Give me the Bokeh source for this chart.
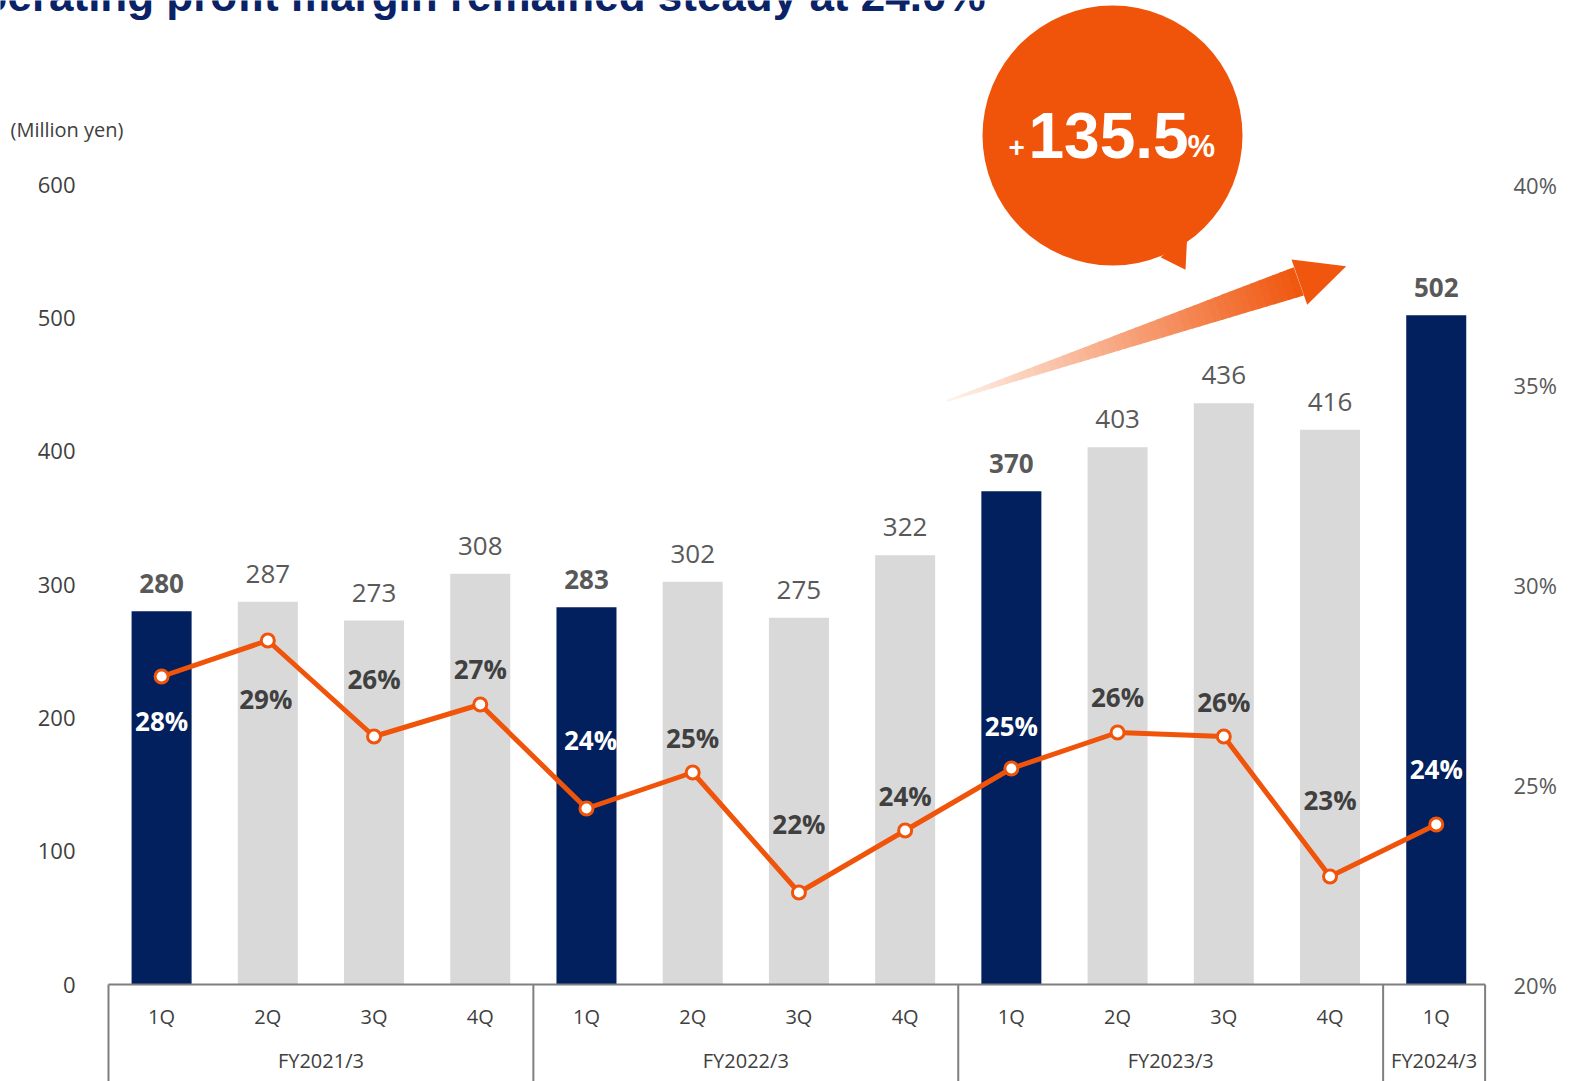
import numpy as np
from bokeh.plotting import figure
from bokeh.models import Range1d, LinearAxis, FixedTicker, ColumnDataSource
from bokeh.core.properties import value
from bokeh.embed import file_html
from bokeh.resources import INLINE

# ---------------- data ----------------
quarters = ["1Q", "2Q", "3Q", "4Q", "1Q", "2Q", "3Q", "4Q", "1Q", "2Q", "3Q", "4Q", "1Q"]
fiscal_years = ["FY2021/3", "FY2022/3", "FY2023/3", "FY2024/3"]
fy_quarter_counts = [4, 4, 4, 1]
operating_profit = [280, 287, 273, 308, 283, 302, 275, 322, 370, 403, 436, 416, 502]   # million yen
margin_pct = [27.7, 28.6, 26.2, 27.0, 24.4, 25.3, 22.3, 23.85, 25.4, 26.3, 26.2, 22.7, 24.0]
left_ticks = [0, 100, 200, 300, 400, 500, 600]
right_ticks = [20, 25, 30, 35, 40]
right_tick_labels = ["20%", "25%", "30%", "35%", "40%"]
growth_value = "135.5"
title_text = "Operating profit margin remained steady at 24.0%"
unit_text = "(Million yen)"

# ---------------- styles ----------------
NAVY = "#021f5e"
GRAY_BAR = "#d9d9d9"
ORANGE = "#f0540a"
DARK = "#404040"
MID = "#595959"
FONT = "Open Sans"
BOLDFONT = "Liberation Sans"
# pixel offsets of margin labels relative to their points (+ = down)
pct_label_dy = [44, 58, -58, -36, -69, -35, -69, -35, -43, -36, -35, -77, -56]
pct_label_dx = [0, -2, 0, 0, 4, 0, 0, 0, 0, 0, 0, 0, 0]

W, H = 1572, 1081
MR = 83
SX = 106.22                 # px per category
IDX0_PX = 161.1             # pixel x of first category
X0 = -IDX0_PX / SX
X1 = X0 + (W - MR) / SX
SY = 4.0 / 3.0              # px per million yen
Y_TOP = 984 / SY
Y_BOT = Y_TOP - H / SY
P_BOT, P_TOP = 20 + Y_BOT / 30.0, 20 + Y_TOP / 30.0   # 20%..40% <-> 0..600
ARIAL_MID = 0.3465          # em-box middle above baseline (Arial metrics)


def px2x(px):   # pixel -> data x
    return X0 + px / SX


def py2y(py):   # pixel -> data y (left axis units)
    return Y_TOP - py / SY


idx = list(range(len(quarters)))
highlight = [q == "1Q" for q in quarters]

p = figure(width=W, height=H, output_backend="svg", toolbar_location=None,
           x_range=Range1d(X0, X1), y_range=Range1d(Y_BOT, Y_TOP),
           x_axis_type=None, y_axis_type=None,
           min_border_left=0, min_border_right=MR, min_border_top=0, min_border_bottom=0)
p.outline_line_color = None
p.background_fill_color = "white"
p.extra_y_ranges = {"pct": Range1d(P_BOT, P_TOP)}

# right axis (margin %)
ra = LinearAxis(y_range_name="pct", ticker=FixedTicker(ticks=right_ticks), axis_line_color=None,
                major_tick_line_color=None, minor_tick_line_color=None,
                major_tick_out=0, major_tick_in=0, major_label_standoff=24,
                major_label_text_font=FONT, major_label_text_font_size="22px",
                major_label_text_color=MID,
                major_label_overrides={t: l for t, l in zip(right_ticks, right_tick_labels)})
p.add_layout(ra, "right")

# left value scale labels
p.text(x=[px2x(75)] * len(left_ticks), y=left_ticks, text=[str(t) for t in left_ticks],
       text_align="right", text_baseline="middle", text_font=value(FONT),
       text_font_size="22px", text_color=DARK)
p.text(x=[px2x(10)], y=[py2y(129.3)], text=[unit_text], text_align="left",
       text_baseline="middle", text_font=value(FONT), text_font_size="20px", text_color=DARK)

# title (cut off at the top, as in the source slide)
p.text(x=[px2x(985)], y=[py2y(10 - ARIAL_MID * 44)], text=[title_text], text_align="right",
       text_baseline="middle", text_font=value(BOLDFONT), text_font_style="bold",
       text_font_size="44px", text_color="#0a2266")

# bars
bar_src = ColumnDataSource(dict(x=idx, top=operating_profit,
                                color=[NAVY if h else GRAY_BAR for h in highlight]))
p.vbar(x="x", top="top", width=0.565, fill_color="color", line_color=None, source=bar_src)

# gradient arrow (decoration)
tail_top, tail_bot = (946, 399.5), (946, 401.5)
shaft_top, shaft_bot = (1293.3, 266.7), (1303.3, 295.0)
N = 48
c0 = np.array([254, 244, 238])
c1 = np.array([240, 86, 14])


def lerp(a, b, t):
    return (a[0] + (b[0] - a[0]) * t, a[1] + (b[1] - a[1]) * t)


xs, ys, cols = [], [], []
for i in range(N):
    t0, t1 = i / N, min(1.0, (i + 1) / N + 0.004)
    a0, a1 = lerp(tail_top, shaft_top, t0), lerp(tail_top, shaft_top, t1)
    b0, b1 = lerp(tail_bot, shaft_bot, t0), lerp(tail_bot, shaft_bot, t1)
    xs.append([px2x(a0[0]), px2x(a1[0]), px2x(b1[0]), px2x(b0[0])])
    ys.append([py2y(a0[1]), py2y(a1[1]), py2y(b1[1]), py2y(b0[1])])
    c = c0 + (c1 - c0) * ((t0 + t1) / 2)
    cols.append("#%02x%02x%02x" % tuple(int(round(v)) for v in c))
p.patches(xs=xs, ys=ys, fill_color=cols, line_color=None)
head = [(1291, 259), (1345.7, 265.7), (1306.7, 304.3)]
p.patch([px2x(a) for a, b in head], [py2y(b) for a, b in head], fill_color="#f0560e", line_color=None)

# margin line
p.line(idx, margin_pct, y_range_name="pct", line_color=ORANGE, line_width=5)
p.scatter(idx, margin_pct, y_range_name="pct", size=13, fill_color="white",
          line_color=ORANGE, line_width=3)

# value labels above bars
for bold in (True, False):
    sel = [i for i in idx if highlight[i] == bold]
    p.text(x=sel, y=[operating_profit[i] + 28 / SY for i in sel],
           text=[str(operating_profit[i]) for i in sel],
           text_align="center", text_baseline="middle", text_font=value(FONT),
           text_font_size="26px", text_color=MID,
           text_font_style="bold" if bold else "normal")

# margin labels
pct_src = ColumnDataSource(dict(
    x=[i + dx / SX for i, dx in zip(idx, pct_label_dx)],
    y=[v - dy / 40.0 for v, dy in zip(margin_pct, pct_label_dy)],
    text=["%d%%" % int(round(v)) for v in margin_pct],
    color=["white" if h else DARK for h in highlight]))
p.text(x="x", y="y", text="text", source=pct_src, y_range_name="pct",
       text_align="center", text_baseline="middle", text_font=value(FONT),
       text_font_size="26px", text_font_style="bold", text_color="color")

# category box axis
edges = [-0.5]
for c in fy_quarter_counts:
    edges.append(edges[-1] + c)
edges[-1] -= 0.04
BOX = "#7f7f7f"
p.segment(x0=[edges[0]], y0=[0], x1=[edges[-1]], y1=[0], line_color=BOX, line_width=2)
p.segment(x0=edges, y0=[0] * len(edges), x1=edges, y1=[Y_BOT] * len(edges),
          line_color=BOX, line_width=2)
p.text(x=idx, y=[py2y(1016)] * len(idx), text=quarters, text_align="center",
       text_baseline="middle", text_font=value(FONT), text_font_size="20px", text_color=DARK)
fy_x = [(edges[i] + edges[i + 1]) / 2 for i in range(len(fiscal_years))]
p.text(x=fy_x, y=[py2y(1060)] * len(fy_x), text=fiscal_years, text_align="center",
       text_baseline="middle", text_font=value(FONT), text_font_size="20px", text_color=DARK)

# speech bubble
bx, by = px2x(1112), py2y(135)
tail = [(1160, 256.7), (1185, 269.3), (1186.7, 236)]
p.patch([px2x(a) for a, b in tail], [py2y(b) for a, b in tail], fill_color=ORANGE, line_color=None)
p.scatter([bx], [by], size=260, marker="circle", fill_color=ORANGE, line_color=None)
base = 156.7
for txt, left, fs in (("+", 1008, 28), (growth_value, 1028, 64), ("%", 1187, 31)):
    p.text(x=[px2x(left)], y=[py2y(base - ARIAL_MID * fs)], text=[txt], text_align="left",
           text_baseline="middle", text_font=value(BOLDFONT), text_font_style="bold",
           text_font_size="%dpx" % fs, text_color="white")

open("out.html", "w").write(file_html(p, INLINE))
